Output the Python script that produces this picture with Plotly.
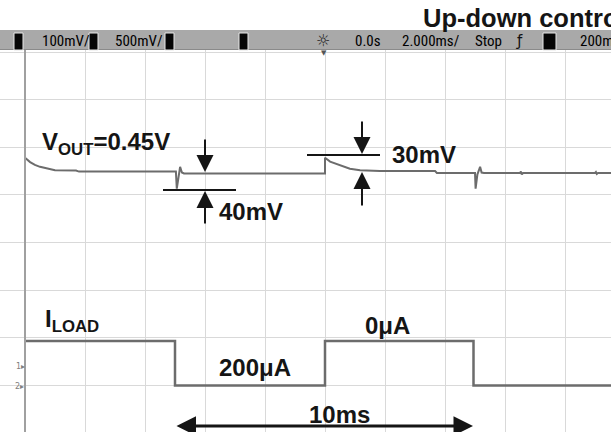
import plotly.graph_objects as go

# ---------------- data (read from the scope capture) ----------------
# Channel 1: output voltage VOUT (V) vs time (ms)
t_vout = [-10.0, -10.0, -9.83, -9.67, -9.5, -9.17, -9.0, -8.3, -8.2, -5.0,
          -4.97, -4.94, -4.88, -4.83, -4.77, -4.7, 0.0, 0.0, 0.17, 0.5,
          0.83, 1.17, 1.83, 3.67, 3.73, 5.0, 5.02, 5.08, 5.17, 5.22,
          5.3, 6.5, 6.53, 6.56, 6.6, 9.0, 9.03, 9.06, 9.1, 9.6]
v_out = [0.450, 0.478, 0.469, 0.463, 0.459, 0.454, 0.452, 0.451, 0.449, 0.449,
         0.449, 0.413, 0.443, 0.459, 0.447, 0.445, 0.445, 0.478, 0.470, 0.462,
         0.455, 0.452, 0.450, 0.450, 0.446, 0.446, 0.413, 0.443, 0.459, 0.447,
         0.446, 0.446, 0.449, 0.443, 0.446, 0.446, 0.448, 0.444, 0.446, 0.446]

# Channel 2: load current ILOAD (uA) vs time (ms), step waveform
t_load = [-10.0, -5.0, 0.0, 4.95, 9.6]
i_load = [0, 200, 0, 200, 200]

# scope settings
T_PER_DIV = 2.0          # ms/div
CH1_CENTER, CH1_PER_DIV = 0.30, 0.1      # V
CH2_CENTER, CH2_PER_DIV = -442.6, -213.9  # uA (inverted)

# ---------------- geometry ----------------
W, H, TOP = 611, 432, 50
X_CENTER_PX, PX_PER_XDIV = 325, 60
Y_CENTER_PX, PX_PER_YDIV = 242.5, 47.6
XDIV_L = -X_CENTER_PX / PX_PER_XDIV
XDIV_R = (W - X_CENTER_PX) / PX_PER_XDIV
YDIV_T = (Y_CENTER_PX - TOP) / PX_PER_YDIV
YDIV_B = (Y_CENTER_PX - H) / PX_PER_YDIV


def px(x):
    return x / W


def py(y):
    return (H - y) / (H - TOP)


x_range = [T_PER_DIV * XDIV_L, T_PER_DIV * XDIV_R]
y1_range = [CH1_CENTER + CH1_PER_DIV * YDIV_B, CH1_CENTER + CH1_PER_DIV * YDIV_T]
y2_range = [CH2_CENTER + CH2_PER_DIV * YDIV_B, CH2_CENTER + CH2_PER_DIV * YDIV_T]

TRACE = "#6c6c6c"
GRID = "#d9d9d9"
INK = "#151515"
BOLD = "Liberation Sans, Arial, sans-serif"
COND = "Liberation Sans Narrow, Roboto Condensed, DejaVu Sans Condensed, Roboto, sans-serif"

fig = go.Figure()
fig.add_trace(go.Scatter(x=t_vout, y=v_out, mode="lines", yaxis="y",
                         line=dict(color=TRACE, width=2), hoverinfo="skip"))
fig.add_trace(go.Scatter(x=t_load, y=i_load, mode="lines", yaxis="y2",
                         line=dict(color=TRACE, width=2.5, shape="hv"),
                         hoverinfo="skip"))

noax = dict(showticklabels=False, zeroline=False, showline=False, fixedrange=True)

layout = dict(
    width=W, height=H, margin=dict(l=0, r=0, t=TOP, b=0, pad=0),
    paper_bgcolor="white", plot_bgcolor="white", showlegend=False,
    xaxis=dict(range=x_range, showgrid=True, gridcolor=GRID, gridwidth=1,
               tick0=0, dtick=T_PER_DIV, ticks="", **noax),
    yaxis=dict(range=y1_range, showgrid=True, gridcolor=GRID, gridwidth=1,
               tick0=CH1_CENTER, dtick=CH1_PER_DIV, ticks="", **noax),
    yaxis2=dict(range=y2_range, overlaying="y", showgrid=False, ticks="", **noax),
    # minor graticule ticks on the centre lines
    xaxis2=dict(range=x_range, overlaying="x", anchor="free", position=py(Y_CENTER_PX),
                ticks="outside", ticklen=3, tickcolor="#c4c4c4", tick0=0,
                dtick=T_PER_DIV / 5, showgrid=False, **noax),
    xaxis3=dict(range=x_range, overlaying="x", anchor="free", position=py(Y_CENTER_PX),
                ticks="inside", ticklen=3, tickcolor="#c4c4c4", tick0=0,
                dtick=T_PER_DIV / 5, showgrid=False, **noax),
    yaxis3=dict(range=y1_range, overlaying="y", anchor="free", position=px(X_CENTER_PX),
                ticks="outside", ticklen=3, tickcolor="#c4c4c4", tick0=CH1_CENTER,
                dtick=CH1_PER_DIV / 5, showgrid=False, **noax),
    yaxis4=dict(range=y1_range, overlaying="y", anchor="free", position=px(X_CENTER_PX),
                ticks="inside", ticklen=3, tickcolor="#c4c4c4", tick0=CH1_CENTER,
                dtick=CH1_PER_DIV / 5, showgrid=False, **noax),
)
fig.update_layout(**layout)

shapes = []
# left screen border
shapes.append(dict(type="line", xref="paper", yref="paper", x0=px(25), x1=px(25),
                   y0=0, y1=1, line=dict(color="#a0a0a0", width=2)))
# status bar
shapes.append(dict(type="rect", xref="paper", yref="paper", x0=0, x1=1,
                   y0=py(50), y1=py(30), fillcolor="#a9a9a9", line=dict(width=0)))
shapes.append(dict(type="line", xref="paper", yref="paper", x0=0, x1=1,
                   y0=py(49.5), y1=py(49.5), line=dict(color="#8a8a8a", width=1)))
for (a, b) in [(14, 23), (89, 98), (165, 174), (239, 248), (543, 556)]:
    shapes.append(dict(type="rect", xref="paper", yref="paper", x0=px(a), x1=px(b),
                       y0=py(50), y1=py(33), fillcolor="#050505",
                       line=dict(color="#e8e8e8", width=1)))
# measurement lines
shapes.append(dict(type="line", xref="paper", yref="paper", x0=px(163), x1=px(236),
                   y0=py(190), y1=py(190), line=dict(color=INK, width=2)))
shapes.append(dict(type="line", xref="paper", yref="paper", x0=px(307), x1=px(380),
                   y0=py(155), y1=py(155), line=dict(color=INK, width=2)))
fig.update_layout(shapes=shapes)

ann = []


def text(s, x, y, size=24, xanchor="left", font=BOLD, color=INK):
    ann.append(dict(text=s, xref="paper", yref="paper", x=px(x), y=py(y),
                    xanchor=xanchor, yanchor="middle", showarrow=False,
                    font=dict(family=font, size=size, color=color)))


def arrow(x, y, ax, ay, width=2, size=1.7, side="end"):
    ann.append(dict(text="", xref="paper", yref="paper", x=px(x), y=py(y),
                    ax=ax, ay=ay, showarrow=True, arrowhead=2, arrowsize=size,
                    arrowwidth=width, arrowcolor=INK, arrowside=side))


text("<b>Up-down control</b>", 421, 18.5, size=25.5)
text("<b>V<sub>OUT</sub>=0.45V</b>", 40, 143)
text("<b>40mV</b>", 217, 212)
text("<b>30mV</b>", 390, 154)
text("<b>I<sub>LOAD</sub></b>", 43, 320)
text("<b>200μA</b>", 217, 367)
text("<b>0μA</b>", 363, 325.5)
text("<b>10ms</b>", 339, 414.5, xanchor="center")

arrow(205, 172, 0, -34)
arrow(205, 191, 0, 34)
arrow(362, 154, 0, -34)
arrow(362, 172, 0, 35)
arrow(473, 426, -298, 0, width=3, size=1.3, side="end+start")

# status bar labels
for s, x in [("100mV/", 40), ("500mV/", 113), ("0.0s", 353), ("2.000ms/", 400),
             ("Stop", 473), ("200mV", 578)]:
    text(s, x, 41, size=15, font=COND, color="#000000")
text("☼", 323, 41, size=16, xanchor="center", font="DejaVu Sans", color="#222222")
text("ƒ", 519, 41, size=15, xanchor="center", font="DejaVu Sans", color="#111111")
text("▼", 324, 53, size=7, xanchor="center", font="DejaVu Sans", color="#555555")
text("1▸", 20, 366, size=8, xanchor="center", font="DejaVu Sans", color="#808080")
text("2▸", 19, 386, size=8, xanchor="center", font="DejaVu Sans", color="#808080")

fig.update_layout(annotations=ann)
fig.write_html("out.html")
